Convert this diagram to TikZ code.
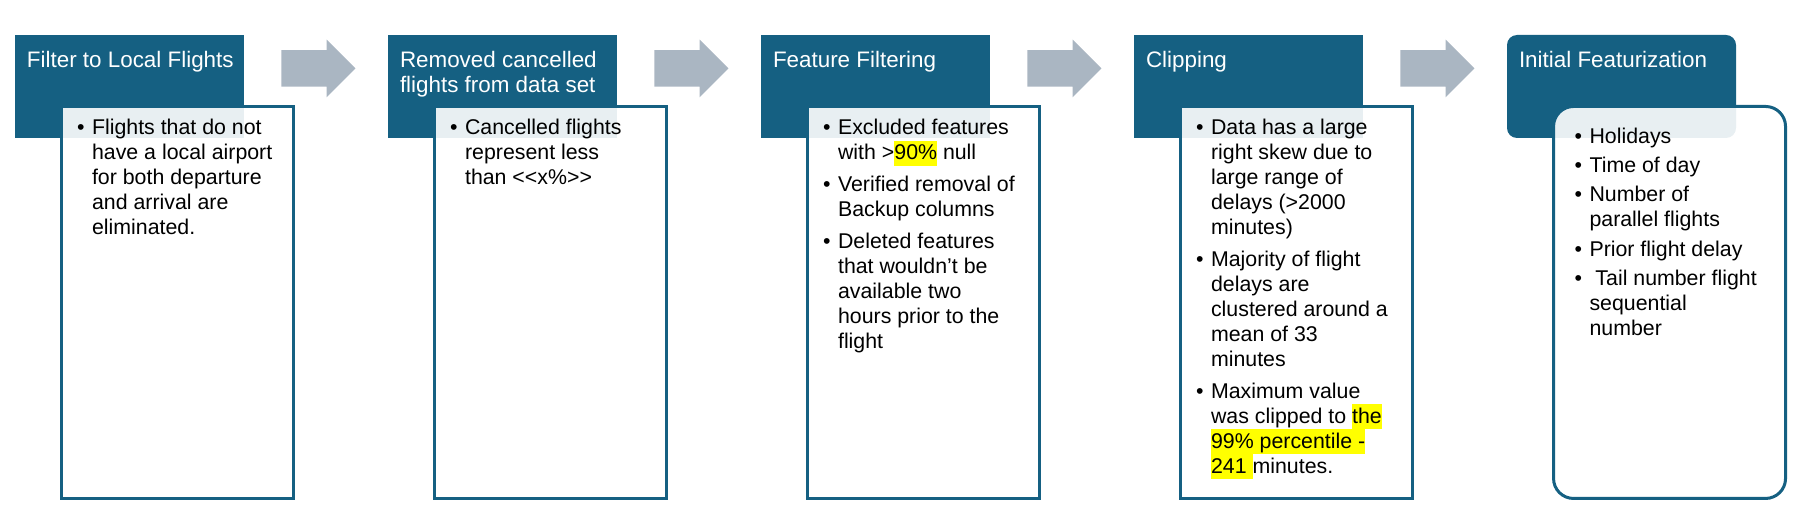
\documentclass[tikz,border=0pt]{standalone}
\usepackage{fontspec}
\setmainfont{Liberation Sans}
\usepackage{tikz}
\usetikzlibrary{positioning,calc,shapes.arrows}
\definecolor{hdblue}{HTML}{156082}
\definecolor{arrgray}{HTML}{AAB6C2}
\definecolor{hlyellow}{HTML}{FFFF00}
\newcommand{\hdtext}[1]{\begin{minipage}[t][77.25pt][t]{171.75pt}\raggedright\leftskip=9pt\parskip=0pt\vspace*{12.3pt}#1\end{minipage}}
\newcommand{\bxtext}[2][22.9pt]{\begin{minipage}[t][294pt][t]{174pt}\raggedright\leftskip=#1\parskip=5pt\lineskiplimit=-20pt\vspace*{9.7pt}#2\end{minipage}}
\newcommand{\itm}{\par\leavevmode\llap{\makebox[11.25pt][l]{\textbullet}}}
\newcommand{\hlt}[1]{{\setlength{\fboxsep}{0pt}\colorbox{hlyellow}{\rule[-4.25pt]{0pt}{18.75pt}#1}}}

\begin{document}
\begin{tikzpicture}[x=0.75pt,y=0.75pt,
  hd/.style={fill=hdblue,text=white,inner sep=0pt,outer sep=0pt,minimum width=171.75pt,minimum height=77.25pt,font=\fontsize{16.8}{18.75}\selectfont},
  bx/.style={draw=hdblue,line width=2.25pt,fill=white,fill opacity=0.9,text opacity=1,inner sep=0pt,outer sep=0pt,minimum width=174pt,minimum height=294pt,font=\fontsize{16}{18.75}\selectfont},
  arr/.style={single arrow,fill=arrgray,inner xsep=0pt,inner ysep=13.5pt,outer sep=0pt,minimum height=55.5pt,single arrow head extend=7.9pt}]
  \useasboundingbox (0,0) rectangle (1795,514);
  \node[hd,anchor=north west] (h1) at (15,479) {\hdtext{Filter to Local Flights}};
  \node[hd,right=108pt of h1] (h2) {\hdtext{Removed cancelled\\flights from data set}};
  \node[hd,right=108pt of h2] (h3) {\hdtext{Feature Filtering}};
  \node[hd,right=108pt of h3] (h4) {\hdtext{Clipping}};
  \node[hd,rounded corners=7.5pt,right=108pt of h4] (h5) {\hdtext{Initial Featurization}};
  \node[bx,below right=53.6pt and 34.9pt of h1.north west] (b1) {\bxtext{\itm Flights that do not\\have a local airport\\for both departure\\and arrival are\\eliminated.}};
  \node[bx,below right=53.6pt and 34.9pt of h2.north west] (b2) {\bxtext{\itm Cancelled flights\\represent less\\than <\kern0pt<x\%>\kern0pt>}};
  \node[bx,below right=53.6pt and 34.9pt of h3.north west] (b3) {\bxtext{\itm Excluded features\\with >\hlt{90\%} null
    \itm Verified removal of\\Backup columns
    \itm Deleted features\\that wouldn’t be\\available two\\hours prior to the\\flight}};
  \node[bx,below right=53.6pt and 34.9pt of h4.north west] (b4) {\bxtext{\itm Data has a large\\right skew due to\\large range of\\delays (>2000\\minutes)
    \itm Majority of flight\\delays are\\clustered around a\\mean of 33\\minutes
    \itm Maximum value\\was clipped to \hlt{the}\\\hlt{99\% percentile -}\\\hlt{241\ }minutes.}};
  \node[bx,rounded corners=15pt,below right=53.6pt and 34.9pt of h5.north west] (b5) {\bxtext[27pt]{\parskip=3.3pt\vspace{6.2pt}\itm Holidays
    \itm Time of day
    \itm Number of\\parallel flights
    \itm Prior flight delay
    \itm\ Tail number flight\\sequential\\number}};
  \foreach \a/\b in {1/2,2/3,3/4,4/5}
    \node[arr,xshift=-5pt,yshift=-25.1pt] (a\a) at ($(h\a.north east)!.5!(h\b.north west)$) {};
\end{tikzpicture}
\end{document}
